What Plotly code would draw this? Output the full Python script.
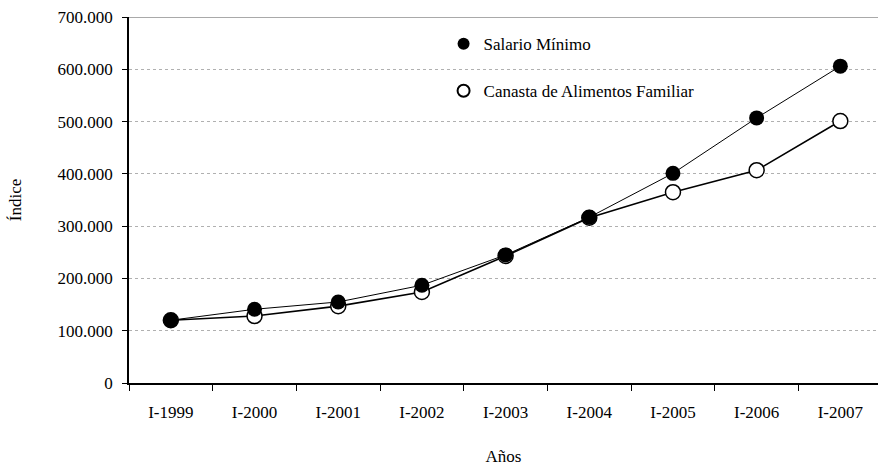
import plotly.graph_objects as go

years = ['I-1999', 'I-2000', 'I-2001', 'I-2002', 'I-2003', 'I-2004', 'I-2005', 'I-2006', 'I-2007']
salario_minimo = [120, 141, 155, 187, 245, 317, 401, 507, 606]
canasta = [120, 128, 147, 174, 243, 316, 365, 407, 501]

y_ticks = [0, 100, 200, 300, 400, 500, 600, 700]
y_labels = ['0', '100.000', '200.000', '300.000', '400.000', '500.000', '600.000', '700.000']

font = dict(family='Liberation Serif', size=17, color='black')

fig = go.Figure()

# lineas con marcadores (sin leyenda)
fig.add_trace(go.Scatter(
    x=years, y=canasta, mode='lines+markers', showlegend=False,
    line=dict(color='black', width=1.6),
    marker=dict(symbol='circle', size=15, color='white', line=dict(color='black', width=1.5))
))
fig.add_trace(go.Scatter(
    x=years, y=salario_minimo, mode='lines+markers', showlegend=False,
    line=dict(color='black', width=1),
    marker=dict(symbol='circle', size=15, color='black')
))

# entradas de leyenda solo con marcador
fig.add_trace(go.Scatter(
    x=[None], y=[None], mode='markers', name='Salario Mínimo', legendgroup='a',
    marker=dict(symbol='circle', size=15, color='black')
))
fig.add_trace(go.Scatter(
    x=[None], y=[None], mode='markers', name='Canasta de Alimentos Familiar', legendgroup='b',
    marker=dict(symbol='circle', size=15, color='white', line=dict(color='black', width=1.5))
))

# borde superior
fig.add_shape(type='line', xref='paper', yref='y', x0=0, x1=1, y0=700, y1=700,
              line=dict(color='#555', width=1))

fig.update_layout(
    width=878, height=472,
    margin=dict(l=129, r=0, t=17, b=89),
    plot_bgcolor='white', paper_bgcolor='white',
    font=font,
    legend=dict(x=0.42, y=0.975, xanchor='left', yanchor='top',
                bgcolor='rgba(0,0,0,0)', font=font, tracegroupgap=22,
                itemsizing='constant'),
    xaxis=dict(
        type='category', range=[-0.5, 8.45],
        tickson='boundaries', ticks='outside', ticklen=6, tickcolor='black',
        showline=True, linecolor='black', linewidth=1.5,
        showgrid=False, zeroline=False,
        ticklabelstandoff=13,
        title=dict(text='Años', font=font, standoff=29),
        tickfont=font,
    ),
    yaxis=dict(
        range=[0, 700], tickvals=y_ticks, ticktext=y_labels,
        ticks='outside', ticklen=5, tickcolor='black',
        showline=True, linecolor='black', linewidth=1.5,
        showgrid=True, gridcolor='#b0b0b0', griddash='dot', gridwidth=1,
        zeroline=False, ticklabelstandoff=6,
        title=dict(text='Índice', font=font, standoff=32),
        tickfont=font,
    ),
)

fig.write_html("out.html", config={'displayModeBar': False},
               post_script="document.body.style.margin='0';")
